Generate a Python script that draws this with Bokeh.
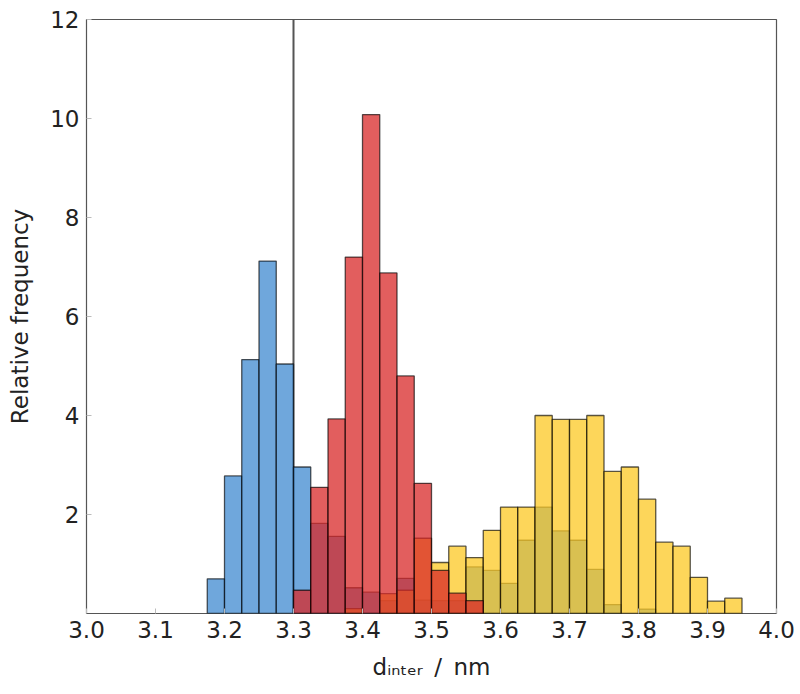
from bokeh.plotting import figure
from bokeh.models import ColumnDataSource, Span, FixedTicker, PrintfTickFormatter, Range1d
from bokeh.embed import file_html
from bokeh.resources import INLINE

# ---- data ----
bin_left = [3.175, 3.200, 3.225, 3.250, 3.275, 3.300, 3.325, 3.350, 3.375, 3.400,
            3.425, 3.450, 3.475, 3.500, 3.525, 3.550, 3.575, 3.600, 3.625, 3.650,
            3.675, 3.700, 3.725, 3.750, 3.775, 3.800, 3.825, 3.850, 3.875, 3.900,
            3.925]
bin_width = 0.025
blue_freq = [0.70, 2.78, 5.13, 7.12, 5.04, 2.96, 1.82, 1.56, 0.52, 0.43,
             0.26, 0.71, 0.27, 0.26, 0.26, 0.94, 0.87, 0.61, 1.48, 2.15,
             1.67, 1.48, 0.89, 0.18, 0.00, 0.09, 0.00, 0.00, 0.00, 0.00,
             0.00]
red_freq = [0.00, 0.00, 0.00, 0.00, 0.00, 0.47, 2.55, 3.93, 7.20, 10.08,
            6.88, 4.80, 2.63, 0.87, 0.41, 0.26, 0.00, 0.00, 0.00, 0.00,
            0.00, 0.00, 0.00, 0.00, 0.00, 0.00, 0.00, 0.00, 0.00, 0.00,
            0.00]
yellow_freq = [0.00, 0.00, 0.00, 0.00, 0.00, 0.00, 0.00, 0.00, 0.10, 0.00,
               0.40, 0.47, 1.52, 1.03, 1.36, 1.13, 1.68, 2.15, 2.15, 4.00,
               3.92, 3.92, 4.00, 2.87, 2.96, 2.31, 1.44, 1.36, 0.73, 0.25,
               0.31]
x_ticks = [3.0, 3.1, 3.2, 3.3, 3.4, 3.5, 3.6, 3.7, 3.8, 3.9, 4.0]
y_ticks = [2, 4, 6, 8, 10, 12]
ref_line_x = 3.3
x_range = (3.0, 4.0)
y_range = (0, 12)
x_label = "d\u1d62\u2099\u209c\u2091\u1d63\u2002/\u2002nm"
y_label = "Relative frequency"

FONT = "DejaVu Sans"

p = figure(width=800, height=694, output_backend="svg", toolbar_location=None,
           x_range=Range1d(*x_range), y_range=Range1d(*y_range),
           min_border_left=86, min_border_right=24, min_border_top=19, min_border_bottom=81)
p.background_fill_color = "white"
p.border_fill_color = "white"
p.outline_line_color = "#555555"
p.outline_line_width = 1.2
p.grid.visible = False

p.add_layout(Span(location=ref_line_x, dimension="height", line_color="#555555",
                  line_width=2, level="underlay"))


def add_hist(freqs, color):
    left, right, top = [], [], []
    for l, h in zip(bin_left, freqs):
        if h > 0:
            left.append(l)
            right.append(l + bin_width)
            top.append(h)
    src = ColumnDataSource(dict(left=left, right=right, top=top))
    p.quad(left="left", right="right", bottom=0, top="top", source=src,
           fill_color=color, fill_alpha=0.75, line_color="black", line_alpha=0.65,
           line_width=1.3)


add_hist(blue_freq, "#3f8ad0")
add_hist(yellow_freq, "#fcc823")
add_hist(red_freq, "#d82828")

for ax in (p.xaxis[0], p.yaxis[0]):
    ax.axis_line_color = None
    ax.major_tick_in = 5
    ax.major_tick_out = 0
    ax.major_tick_line_color = "#bbbbbb"
    ax.minor_tick_line_color = None
    ax.major_label_text_font = FONT
    ax.major_label_text_font_size = "23px"
    ax.major_label_text_color = "#222222"
    ax.axis_label_text_font = FONT
    ax.axis_label_text_font_size = "23px"
    ax.axis_label_text_font_style = "normal"
    ax.axis_label_text_color = "#222222"

p.xaxis.ticker = FixedTicker(ticks=x_ticks)
p.xaxis.formatter = PrintfTickFormatter(format="%.1f")
p.xaxis.major_label_standoff = 7
p.xaxis.axis_label = x_label
p.xaxis.axis_label_standoff = 13
p.yaxis.ticker = FixedTicker(ticks=y_ticks)
p.yaxis.major_label_standoff = 7
p.yaxis.axis_label = y_label
p.yaxis.axis_label_standoff = 14

open("out.html", "w").write(file_html(p, INLINE))
